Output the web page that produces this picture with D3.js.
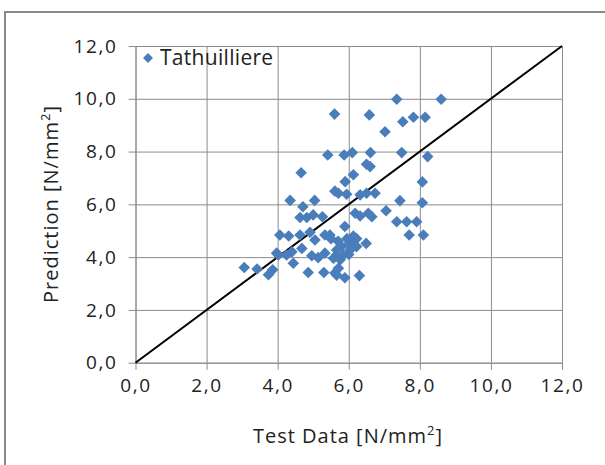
<html>
<head>
<script src="https://d3js.org/d3.v7.min.js"></script>
<style>
  body { margin: 0; background: #fff; }
  text { font-family: 'Open Sans', sans-serif; fill: #222; }
</style>
</head>
<body>
<div id="chart"></div>
<script>

// values
var seriesName = 'Tathuilliere'
var testData = [
  7.35, 8.6, 5.6, 6.58, 7.52, 7.82, 8.15, 7.02, 5.41, 5.87,
  6.1, 6.61, 7.49, 8.22, 6.5, 6.6, 4.66, 6.13, 5.9, 8.07,
  6.74, 6.5, 6.32, 5.94, 5.71, 5.61, 7.44, 8.07, 4.35, 5.04,
  4.71, 7.05, 6.18, 6.32, 6.55, 6.65, 4.63, 4.82, 5.0, 5.26,
  7.35, 7.63, 7.91, 5.89, 7.7, 8.1, 6.49, 4.06, 4.31, 4.63,
  4.91, 5.05, 5.33, 5.5, 5.47, 6.13, 6.22, 6.22, 6.04, 5.66,
  5.85, 5.66, 5.76, 5.57, 6.0, 3.97, 4.02, 4.25, 4.4, 4.68,
  4.44, 4.96, 5.14, 5.33, 3.06, 3.42, 3.74, 3.86, 4.86, 5.3,
  5.66, 5.89, 6.3, 5.71, 5.61, 6.0, 5.8, 6.1, 5.95, 5.7
]
var prediction = [
  9.98, 9.98, 9.42, 9.39, 9.13, 9.3, 9.3, 8.75, 7.87, 7.87,
  7.96, 7.96, 7.96, 7.81, 7.52, 7.43, 7.2, 7.12, 6.86, 6.85,
  6.42, 6.42, 6.36, 6.38, 6.42, 6.5, 6.14, 6.06, 6.15, 6.15,
  5.91, 5.76, 5.66, 5.56, 5.66, 5.53, 5.5, 5.5, 5.6, 5.53,
  5.34, 5.34, 5.34, 5.16, 4.84, 4.84, 4.52, 4.84, 4.8, 4.84,
  4.94, 4.65, 4.84, 4.7, 4.84, 4.8, 4.7, 4.4, 4.27, 4.27,
  4.08, 4.08, 3.9, 3.96, 4.1, 4.15, 4.08, 4.08, 4.2, 4.33,
  3.77, 4.05, 3.98, 4.15, 3.61, 3.55, 3.33, 3.52, 3.42, 3.42,
  3.32, 3.22, 3.3, 3.58, 3.4, 4.5, 4.4, 4.55, 4.7, 4.6
]
var ticks = [0, 2, 4, 6, 8, 10, 12]
var diagonal = [0, 12]

function draw() {
    var width = 605
    var height = 465
    var pLeft = 135.5, pRight = 562, pTop = 46, pBottom = 362.7

    var comma = d3.formatLocale({ decimal: ',', thousands: '.', grouping: [3], currency: ['', ''] }).format('.1f')

    var xs = d3.scaleLinear().domain([0, 12]).range([pLeft, pRight])
    var ys = d3.scaleLinear().domain([0, 12]).range([pBottom, pTop])

    var svg = d3.select('#chart').append('svg')
        .attr('width', width)
        .attr('height', height)

    svg.append('rect')
        .attr('width', width).attr('height', height)
        .attr('fill', '#fff')

    // outer chart frame, runs off the right and bottom of the picture
    svg.append('rect')
        .attr('x', 5).attr('y', 12)
        .attr('width', 700).attr('height', 600)
        .attr('fill', 'none')
        .attr('stroke', '#8a8a8a')
        .attr('stroke-width', 2)

    // gridlines
    svg.append('g')
        .attr('transform', 'translate(0,' + pBottom + ')')
        .call(d3.axisBottom(xs).tickValues(ticks).tickSize(-(pBottom - pTop)).tickFormat(''))
        .call(function(g) { g.select('.domain').remove() })
        .selectAll('line').attr('stroke', '#8c8c8c')

    svg.append('g')
        .attr('transform', 'translate(' + pLeft + ',0)')
        .call(d3.axisLeft(ys).tickValues(ticks).tickSize(-(pRight - pLeft)).tickFormat(''))
        .call(function(g) { g.select('.domain').remove() })
        .selectAll('line').attr('stroke', '#8c8c8c')

    // axes
    var xAxis = svg.append('g')
        .attr('transform', 'translate(0,' + pBottom + ')')
        .call(d3.axisBottom(xs).tickValues(ticks).tickSize(7).tickSizeOuter(0).tickPadding(9).tickFormat(comma))
    var yAxis = svg.append('g')
        .attr('transform', 'translate(' + pLeft + ',0)')
        .call(d3.axisLeft(ys).tickValues(ticks).tickSize(7).tickSizeOuter(0).tickPadding(11).tickFormat(comma))

    ;[xAxis, yAxis].forEach(function(a) {
        a.select('.domain').attr('stroke', '#8c8c8c')
        a.selectAll('line').attr('stroke', '#8c8c8c')
        a.selectAll('text')
            .style('font-family', "'Open Sans', sans-serif")
            .style('font-size', '19px')
            .style('letter-spacing', '1.6px')
            .attr('fill', '#222')
    })

    // 1:1 line
    svg.append('line')
        .attr('x1', xs(diagonal[0])).attr('y1', ys(diagonal[0]))
        .attr('x2', xs(diagonal[1])).attr('y2', ys(diagonal[1]))
        .attr('stroke', '#000')
        .attr('stroke-width', 2)

    var diamond = 'M0,-5.8L5.8,0L0,5.8L-5.8,0Z'

    svg.append('g')
        .selectAll('path')
        .data(testData)
        .enter()
        .append('path')
        .attr('d', diamond)
        .attr('transform', function(d, i) { return 'translate(' + xs(d) + ',' + ys(prediction[i]) + ')' })
        .attr('fill', '#4a7ebb')

    // legend
    svg.append('path')
        .attr('d', 'M0,-5L5,0L0,5L-5,0Z')
        .attr('transform', 'translate(148,58)')
        .attr('fill', '#4a7ebb')
    svg.append('text')
        .attr('x', 160).attr('y', 65)
        .style('font-size', '21px')
        .style('letter-spacing', '0.3px')
        .text(seriesName)

    // axis titles
    var xt = svg.append('text')
        .attr('x', 348).attr('y', 443)
        .attr('text-anchor', 'middle')
        .style('font-size', '20px')
        .style('letter-spacing', '1px')
    xt.append('tspan').text('Test Data [N/mm')
    xt.append('tspan').attr('dy', -8).style('font-size', '13px').text('2')
    xt.append('tspan').attr('dy', 8).text(']')

    var yt = svg.append('text')
        .attr('transform', 'translate(58,204) rotate(-90)')
        .attr('text-anchor', 'middle')
        .style('font-size', '20px')
        .style('letter-spacing', '1px')
    yt.append('tspan').text('Prediction [N/mm')
    yt.append('tspan').attr('dy', -8).style('font-size', '13px').text('2')
    yt.append('tspan').attr('dy', 8).text(']')
}

draw()

</script>
</body>
</html>
